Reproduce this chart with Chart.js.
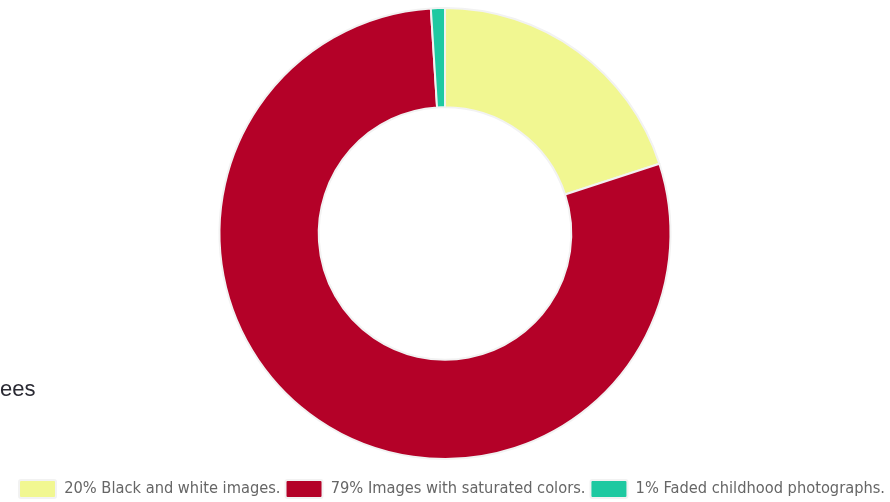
<!DOCTYPE html>
<html>
<head>
<meta charset="utf-8">
<script src="https://cdn.jsdelivr.net/npm/chart.js@4/dist/chart.umd.min.js"></script>
<style>
  html, body { margin: 0; padding: 0; background: #fff; overflow: hidden; }
  #wrap { position: relative; width: 890px; height: 502px; }
  #side { position: absolute; left: 0; top: 376px; font-family: "Liberation Sans", Arial, sans-serif; font-size: 22px; color: #2a2a33; white-space: nowrap; }
</style>
</head>
<body>
<div id="wrap">
  <canvas id="c" width="890" height="502"></canvas>
  <div id="side">ees</div>
</div>
<script>
const categories = ["20% Black and white images.", "79% Images with saturated colors.", "1% Faded childhood photographs."];
const values = [20, 79, 1];
const colors = ["#f1f791", "#b40128", "#1ec9a1"];

new Chart(document.getElementById('c'), {
  type: 'doughnut',
  data: {
    labels: categories,
    datasets: [{
      data: values,
      backgroundColor: colors,
      borderColor: '#f2f2f2',
      borderWidth: 2,
      hoverOffset: 0
    }]
  },
  options: {
    responsive: false,
    animation: false,
    cutout: '56%',
    layout: { padding: { top: 7, bottom: -6, left: 0, right: 0 } },
    plugins: {
      tooltip: { enabled: false },
      legend: {
        position: 'bottom',
        align: 'end',
        title: { display: true, text: '', font: { size: 12.5 }, padding: 0 },
        labels: {
          font: { family: "DejaVu Sans Condensed", size: 16.3 },
          color: '#666',
          boxWidth: 37,
          boxHeight: 18,
          padding: 5,
          useBorderRadius: true,
          borderRadius: 2
        }
      }
    }
  }
});
</script>
</body>
</html>
